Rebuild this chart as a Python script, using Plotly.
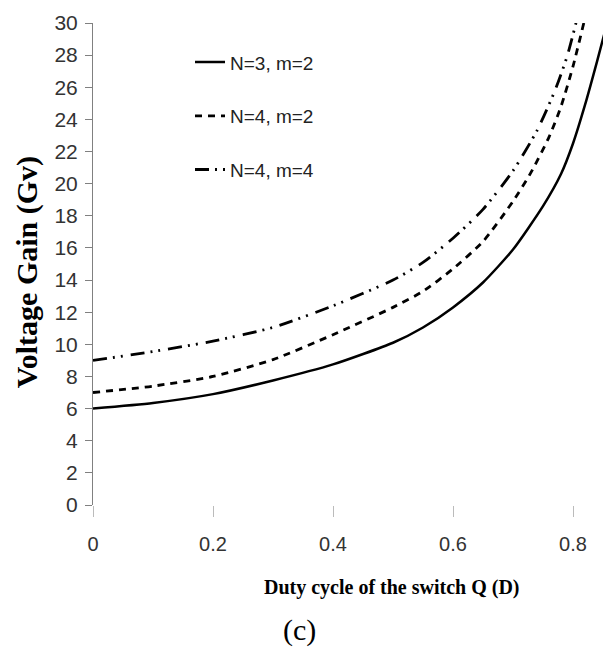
import plotly.graph_objects as go

# ---- data ----
duty_n3m2 = [0, 0.1, 0.2, 0.3, 0.4, 0.5, 0.55, 0.6, 0.65, 0.7, 0.75, 0.78, 0.8, 0.82, 0.84, 0.857]
gain_n3m2 = [6.0, 6.35, 6.9, 7.75, 8.75, 10.1, 11.05, 12.3, 13.85, 15.9, 18.6, 20.6, 22.5, 24.9, 27.6, 30.0]

duty_n4m2 = [0, 0.1, 0.2, 0.3, 0.4, 0.5, 0.55, 0.6, 0.65, 0.7, 0.73, 0.76, 0.78, 0.8, 0.818]
gain_n4m2 = [7.0, 7.4, 8.0, 9.05, 10.6, 12.3, 13.3, 14.7, 16.4, 18.9, 20.7, 22.9, 24.8, 27.3, 30.0]

duty_n4m4 = [0, 0.1, 0.2, 0.3, 0.4, 0.5, 0.55, 0.6, 0.65, 0.7, 0.74, 0.77, 0.79, 0.805]
gain_n4m4 = [9.0, 9.55, 10.2, 11.05, 12.4, 14.0, 15.1, 16.6, 18.4, 20.8, 23.3, 25.8, 27.9, 30.0]

series_names = ["N=3, m=2", "N=4, m=2", "N=4, m=4"]
x_ticks = [0, 0.2, 0.4, 0.6, 0.8]
x_tick_labels = ["0", "0.2", "0.4", "0.6", "0.8"]
y_ticks = list(range(0, 31, 2))

x_title = "Duty cycle of the switch Q (D)"
y_title = "Voltage Gain (Gv)"
caption = "(c)"

SANS = "Liberation Sans, Arial, sans-serif"
SERIF = "Liberation Serif, Times New Roman, serif"

fig = go.Figure()
styles = [
    dict(color="black", width=2.5, dash="solid"),
    dict(color="black", width=2.8, dash="7px,6px"),
    dict(color="black", width=2.8, dash="14px,6px,2px,6px,2px,8px"),
]
for i, (xs, ys) in enumerate([(duty_n3m2, gain_n3m2), (duty_n4m2, gain_n4m2), (duty_n4m4, gain_n4m4)]):
    fig.add_trace(go.Scatter(
        x=xs, y=ys, mode="lines", name=series_names[i],
        line=dict(shape="spline", smoothing=0.6, **styles[i]),
        legendgroup=f"g{i}",
    ))

# page body has an 8px margin, so the figure is offset by (8, 8) on screen
fig.update_layout(
    width=603, height=639,
    margin=dict(l=85, r=2, t=15, b=142),
    paper_bgcolor="white", plot_bgcolor="white",
    showlegend=True,
    legend=dict(
        x=0.188, y=0.958, xanchor="left", yanchor="top",
        font=dict(family=SANS, size=19, color="#222"),
        tracegroupgap=26, bgcolor="rgba(0,0,0,0)",
    ),
    xaxis=dict(
        range=[0, 0.86], tickvals=x_ticks, ticktext=x_tick_labels,
        showline=False, showgrid=False, zeroline=False,
        ticks="outside", ticklen=11, tickcolor="#bbbbbb", tickwidth=1,
        tickfont=dict(family=SANS, size=20, color="#333"),
        ticklabelstandoff=10,
    ),
    yaxis=dict(
        range=[0, 30], tickvals=y_ticks,
        showline=True, linecolor="#808080", linewidth=1,
        showgrid=False, zeroline=False,
        ticks="outside", ticklen=7, tickcolor="#808080",
        tickfont=dict(family=SANS, size=21, color="#333"),
        ticklabelstandoff=3,
    ),
    annotations=[
        dict(text=f"<b>{y_title}</b>", xref="paper", yref="paper", x=-0.128, y=0.483,
             xanchor="center", yanchor="middle", textangle=-90, showarrow=False,
             font=dict(family=SERIF, size=30, color="black")),
        dict(text=f"<b>{x_title}</b>", xref="paper", yref="paper", x=0.5795, y=-0.172,
             xanchor="center", yanchor="middle", showarrow=False,
             font=dict(family=SERIF, size=20, color="black")),
        dict(text=caption, xref="paper", yref="paper", x=0.401, y=-0.259,
             xanchor="center", yanchor="middle", showarrow=False,
             font=dict(family=SERIF, size=30, color="black")),
    ],
)

fig.write_html("out.html")
